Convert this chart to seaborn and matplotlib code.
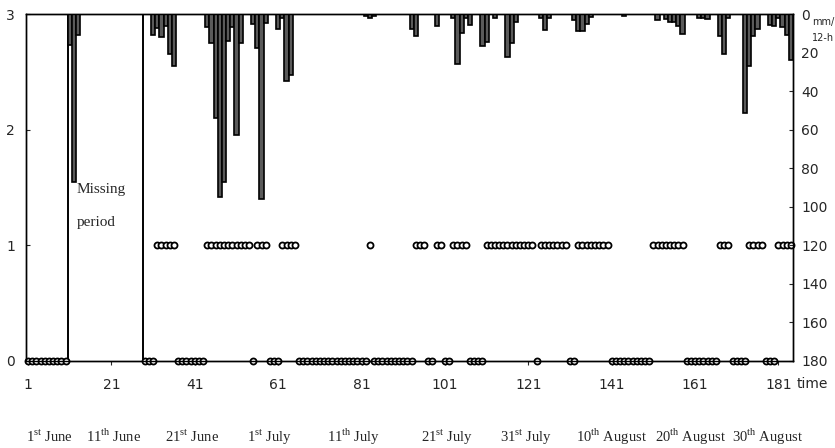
"""Half-daily rain (bars, right axis) and weather state (circles, left axis), June-August."""
import matplotlib
matplotlib.use("Agg")
import matplotlib.pyplot as plt
import matplotlib.transforms as mtransforms
import seaborn as sns
import pandas as pd
import numpy as np

# 12-hour steps, 1st June .. 31st August
time_steps = list(range(1, 185))

# state per step (None = missing period), rows of ten steps
N = None
state = [
    0, 0, 0, 0, 0, 0, 0, 0, 0, 0,
    N, N, N, N, N, N, N, N, N, N,
    N, N, N, N, N, N, N, N, 0, 0,
    0, 1, 1, 1, 1, 1, 0, 0, 0, 0,
    0, 0, 0, 1, 1, 1, 1, 1, 1, 1,
    1, 1, 1, 1, 0, 1, 1, 1, 0, 0,
    0, 1, 1, 1, 1, 0, 0, 0, 0, 0,
    0, 0, 0, 0, 0, 0, 0, 0, 0, 0,
    0, 0, 1, 0, 0, 0, 0, 0, 0, 0,
    0, 0, 0, 1, 1, 1, 0, 0, 1, 1,
    0, 0, 1, 1, 1, 1, 0, 0, 0, 0,
    1, 1, 1, 1, 1, 1, 1, 1, 1, 1,
    1, 1, 0, 1, 1, 1, 1, 1, 1, 1,
    0, 0, 1, 1, 1, 1, 1, 1, 1, 1,
    0, 0, 0, 0, 0, 0, 0, 0, 0, 0,
    1, 1, 1, 1, 1, 1, 1, 1, 0, 0,
    0, 0, 0, 0, 0, 0, 1, 1, 1, 0,
    0, 0, 0, 1, 1, 1, 1, 0, 0, 0,
    1, 1, 1, 1,
]

# precipitation, mm per 12 h (only steps with rain)
rain_time = [11, 12, 13,
             31, 32, 33, 34, 35, 36,
             44, 45, 46, 47, 48, 49, 50, 51, 52,
             55, 56, 57, 58,
             61, 62, 63, 64,
             82, 83, 84,
             93, 94, 99,
             103, 104, 105, 106, 107,
             110, 111, 113, 116, 117, 118,
             124, 125, 126,
             132, 133, 134, 135, 136,
             144, 152, 154, 155, 156, 157, 158,
             162, 163, 164, 167, 168, 169,
             173, 174, 175, 176,
             179, 180, 181, 182, 183, 184]
rain_mm = [16, 87, 11,
           11, 7.5, 12, 6, 21, 27,
           6.5, 15, 54, 95, 87, 14, 6.5, 63, 15,
           5, 17.5, 96, 4.5,
           8, 2, 35, 31.5,
           1, 2, 1,
           8, 11.5, 6,
           2, 26, 10, 2, 5.5,
           16.5, 14.5, 2, 22.5, 15, 4,
           2, 8.5, 2,
           3, 9, 9, 5, 1.5,
           1, 3, 2.5, 4, 4, 6, 10.5,
           2, 2, 2.5, 11.5, 21, 2,
           51.5, 27, 11.5, 8,
           5.5, 6, 2, 7, 11, 24]

missing_first, missing_last = 11, 28

x_ticks = [1, 21, 41, 61, 81, 101, 121, 141, 161, 181]
left_ticks = [0, 1, 2, 3]
right_ticks = [0, 20, 40, 60, 80, 100, 120, 140, 160, 180]
date_labels = [r"1$^{\mathrm{st}}$ June", r"11$^{\mathrm{th}}$ June", r"21$^{\mathrm{st}}$ June",
               r"1$^{\mathrm{st}}$ July", r"11$^{\mathrm{th}}$ July", r"21$^{\mathrm{st}}$ July",
               r"31$^{\mathrm{st}}$ July", r"10$^{\mathrm{th}}$ August", r"20$^{\mathrm{th}}$ August",
               r"30$^{\mathrm{th}}$ August"]
date_label_x = [6, 21.4, 40.4, 59, 79, 101.6, 120.4, 141, 159.8, 178.4]

sns.set_style("ticks")
plt.rcParams["font.family"] = ["DejaVu Sans"]
plt.rcParams["mathtext.fontset"] = "custom"
plt.rcParams["mathtext.rm"] = "Liberation Serif"
plt.rcParams["axes.linewidth"] = 1.0
plt.rcParams["axes.edgecolor"] = "black"

fig = plt.figure(figsize=(8.35, 4.48), dpi=100)
ax = fig.add_axes([26 / 835, 1 - 361 / 448, 767 / 835, 347 / 448])
ax2 = ax.twinx()

# rain bars hanging from the top
sns.histplot(x=rain_time, weights=rain_mm, discrete=True, shrink=1.0, ax=ax2,
             color="#5a5a5a", edgecolor="black", linewidth=1.2, alpha=1.0)
for p in list(ax2.patches):
    if p.get_height() == 0:
        p.remove()
ax2.set_ylim(180, 0)
ax2.set_yticks(right_ticks)
ax2.set_ylabel("")

# state circles
df_state = pd.DataFrame({"time": time_steps, "state": state}).dropna()
sns.scatterplot(data=df_state, x="time", y="state", ax=ax, marker="o", s=19,
                color="white", edgecolor="black", linewidth=1.3,
                clip_on=False, zorder=4, legend=False)

# missing period box
ax.axvline(missing_first - 0.5, color="black", lw=1.4)
ax.axvline(missing_last + 0.5, color="black", lw=1.4)
ax.text(missing_first + 1.7, 1.48, "Missing", family="Liberation Serif", fontsize=11, va="center")
ax.text(missing_first + 1.7, 1.2, "period", family="Liberation Serif", fontsize=11, va="center")

ax.set_xlim(0.5, 184.5)
ax.set_ylim(0, 3)
ax.set_xticks(x_ticks)
ax.set_yticks(left_ticks)
ax.set_xlabel("")
ax.set_ylabel("")
ax.tick_params(axis="x", direction="out", length=3, pad=9, labelsize=10)
ax.tick_params(axis="y", direction="in", length=3, pad=8, labelsize=10)
ax2.tick_params(axis="y", direction="in", length=3, pad=6, labelsize=10)
for s in ax2.spines.values():
    s.set_linewidth(1.0)

ax.text(1.005, -0.046, "time", transform=ax.transAxes, fontsize=10, va="top", ha="left")
fig.text(812 / 835, 1 - 22 / 448, "mm/", fontsize=7, va="center", ha="left")
fig.text(812 / 835, 1 - 38 / 448, "12-h", fontsize=7, va="center", ha="left")

trans = mtransforms.blended_transform_factory(ax.transData, ax.transAxes)
for lab, xpos in zip(date_labels, date_label_x):
    ax.text(xpos, -0.233, lab, transform=trans, family="Liberation Serif",
            fontsize=10.5, ha="center", va="baseline")

fig.savefig("out.png", dpi=100)
plt.close(fig)
